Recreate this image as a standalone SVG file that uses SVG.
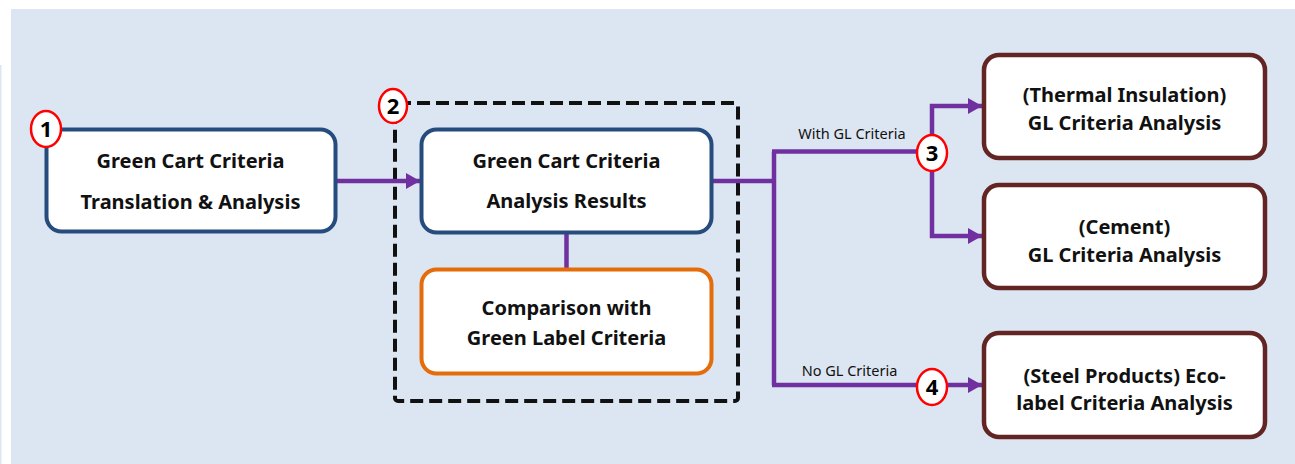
<svg xmlns="http://www.w3.org/2000/svg" width="1295" height="464" viewBox="0 0 1295 464">
  <style>
    .bg { fill: #dce6f2; }
    .box { fill: #ffffff; stroke-width: 4; }
    .blue { stroke: #264c7e; }
    .orange { stroke: #e46c0a; }
    .maroon { stroke: #632523; stroke-width: 4.5; }
    .lbl { font-family: "Noto Sans", "Liberation Sans", sans-serif; font-weight: bold; font-size: 20px; fill: #111111; text-anchor: middle; }
    .edge { font-family: "Noto Sans", "Liberation Sans", sans-serif; font-size: 14.5px; fill: #111111; text-anchor: middle; }
    .link { fill: none; stroke: #7030a0; stroke-width: 4.5; }
    .badge { fill: #ffffff; stroke: #ff0000; stroke-width: 2.5; }
    .num { font-family: "Noto Sans", "Liberation Sans", sans-serif; font-weight: bold; font-size: 22px; fill: #000000; text-anchor: middle; }
  </style>
  <defs>
    <marker id="arrow" markerUnits="userSpaceOnUse" markerWidth="14" markerHeight="16" refX="14" refY="8" orient="auto">
      <path d="M0,0 L14,8 L0,16 z" fill="#7030a0"/>
    </marker>
  </defs>

  <!-- panel -->
  <rect x="0" y="0" width="1295" height="464" fill="#ffffff"/>
  <rect class="bg" x="11" y="9" width="1284" height="455"/>
  <rect class="bg" x="0" y="65" width="1.5" height="399"/>

  <!-- dashed group frame -->
  <rect id="group2" x="395" y="103" width="343" height="298" rx="3" fill="none" stroke="#111111" stroke-width="4" stroke-dasharray="13 6"/>

  <!-- connectors -->
  <g id="connectors">
    <path class="link" d="M336,181 H420" marker-end="url(#arrow)"/>
    <path class="link" d="M566.5,234 V268"/>
    <path class="link" d="M713,181 H774"/>
    <path class="link" d="M774,151.5 V385"/>
    <path class="link" d="M772,151.5 H932"/>
    <path class="link" d="M932,151.5 V106 H982" marker-end="url(#arrow)"/>
    <path class="link" d="M932,151.5 V236 H982" marker-end="url(#arrow)"/>
    <path class="link" d="M772,385 H982" marker-end="url(#arrow)"/>
    <text class="edge" x="852" y="139">With GL Criteria</text>
    <text class="edge" x="849.5" y="376">No GL Criteria</text>
  </g>

  <!-- step 1 -->
  <g id="node-translation">
    <rect class="box blue" x="46.5" y="129.5" width="289" height="102" rx="15"/>
    <text class="lbl" x="190.5" y="168">Green Cart Criteria</text>
    <text class="lbl" x="190.5" y="209">Translation &amp; Analysis</text>
  </g>

  <!-- step 2 -->
  <g id="node-results">
    <rect class="box blue" x="421.5" y="129.5" width="290" height="103" rx="15"/>
    <text class="lbl" x="566.5" y="168">Green Cart Criteria</text>
    <text class="lbl" x="566.5" y="208">Analysis Results</text>
  </g>
  <g id="node-comparison">
    <rect class="box orange" x="421.5" y="269.5" width="290" height="104" rx="15"/>
    <text class="lbl" x="566.5" y="315">Comparison with</text>
    <text class="lbl" x="566.5" y="345">Green Label Criteria</text>
  </g>

  <!-- outcomes -->
  <g id="node-insulation">
    <rect class="box maroon" x="984" y="55" width="281" height="103" rx="15"/>
    <text class="lbl" x="1124.5" y="102">(Thermal Insulation)</text>
    <text class="lbl" x="1124.5" y="130">GL Criteria Analysis</text>
  </g>
  <g id="node-cement">
    <rect class="box maroon" x="984" y="185" width="281" height="103" rx="15"/>
    <text class="lbl" x="1124.5" y="234">(Cement)</text>
    <text class="lbl" x="1124.5" y="262">GL Criteria Analysis</text>
  </g>
  <g id="node-steel">
    <rect class="box maroon" x="984" y="333" width="281" height="104" rx="15"/>
    <text class="lbl" x="1124.5" y="383">(Steel Products) Eco-</text>
    <text class="lbl" x="1124.5" y="410">label Criteria Analysis</text>
  </g>

  <!-- step badges -->
  <g id="badge-1">
    <ellipse class="badge" cx="46" cy="129" rx="15" ry="18"/>
    <text class="num" x="46" y="137">1</text>
  </g>
  <g id="badge-2">
    <ellipse class="badge" cx="393" cy="106" rx="14" ry="17"/>
    <text class="num" x="393" y="114">2</text>
  </g>
  <g id="badge-3">
    <ellipse class="badge" cx="932" cy="153" rx="15" ry="18"/>
    <text class="num" x="932" y="161">3</text>
  </g>
  <g id="badge-4">
    <ellipse class="badge" cx="932" cy="387" rx="15" ry="18"/>
    <text class="num" x="932" y="395">4</text>
  </g>
</svg>
